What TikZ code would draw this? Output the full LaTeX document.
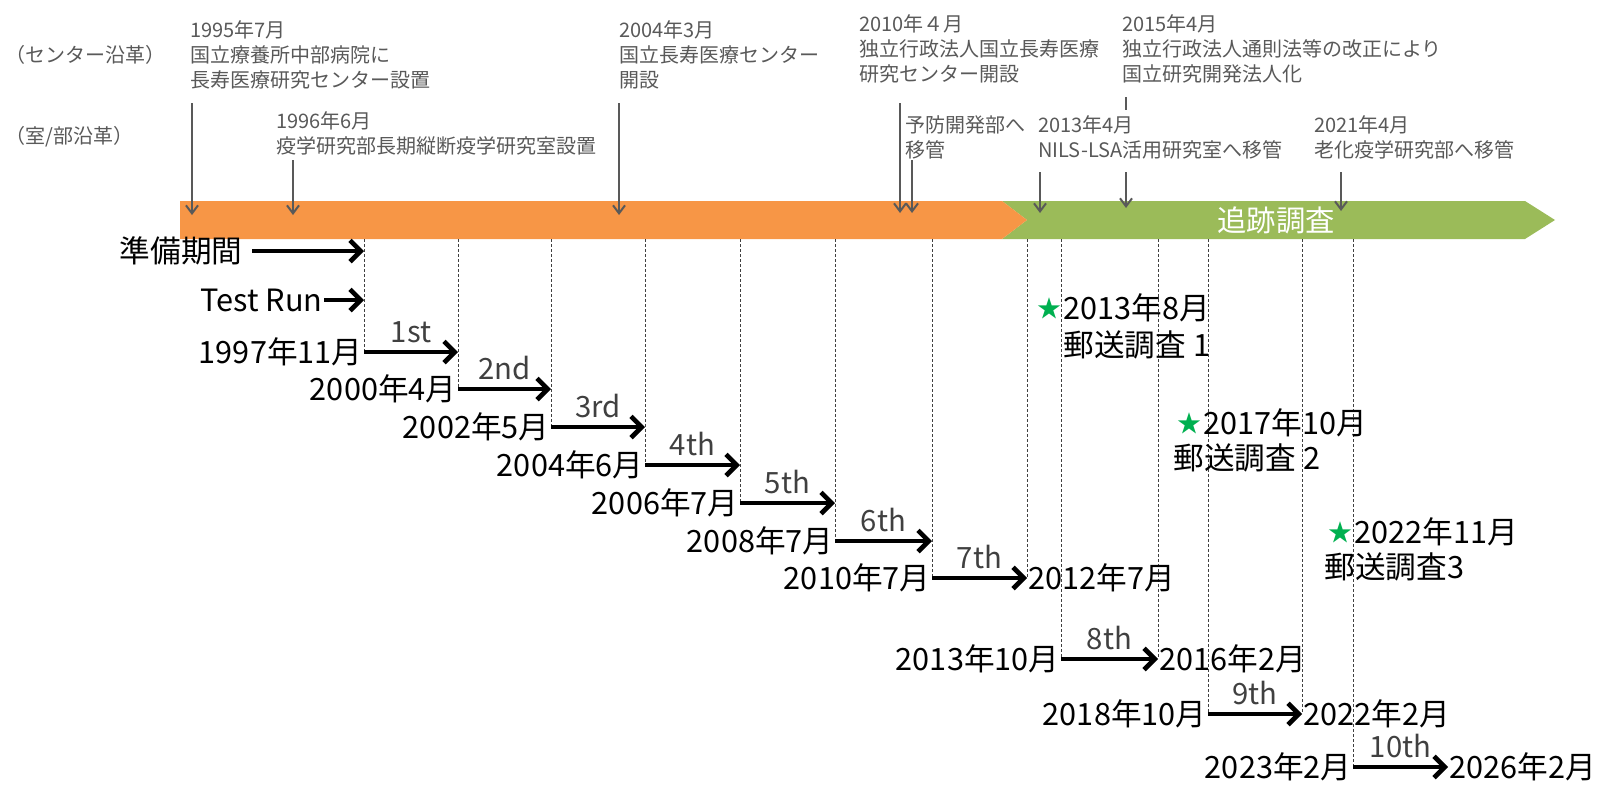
\documentclass[tikz,border=0pt]{standalone}
\usepackage{fontspec}
\setmainfont{Noto Sans CJK JP}
\usetikzlibrary{arrows.meta,positioning}
\definecolor{bandorange}{HTML}{F79646}
\definecolor{bandgreen}{HTML}{9BBB59}
\definecolor{notegray}{HTML}{595959}
\definecolor{wavegray}{HTML}{404040}
\definecolor{stargreen}{HTML}{00B050}

\begin{document}
\begin{tikzpicture}[x=0.75pt,y=-0.75pt]
\tikzstyle{note}=[anchor=north west,align=left,inner sep=0pt,text=notegray,font=\fontsize{15}{18.75}\selectfont]
\tikzstyle{event}=[draw=notegray,line width=1.5pt,-{Straight Barb[length=6pt,width=9pt]}]
\tikzstyle{date}=[inner sep=1pt,font=\fontsize{23}{27}\selectfont]
\tikzstyle{run}=[line width=3.5pt,-{Straight Barb[length=8pt,width=16pt]}]
\tikzstyle{wave}=[above=4pt,inner sep=1pt,text=wavegray,font=\fontsize{22}{26}\selectfont]
\tikzstyle{guide}=[draw=wavegray,line width=0.75pt,dash pattern=on 2.25pt off 1.5pt]
\tikzstyle{starsym}=[inner sep=0pt,text=stargreen,font=\fontsize{18}{20}\selectfont]
\useasboundingbox (0,0) rectangle (1600,797);

% bands
\fill[bandgreen] (1002,201) -- (1525,201) -- (1555,220) -- (1525,239) -- (1002,239) -- (1027,220) -- cycle;
\fill[bandorange] (180,201) -- (1002,201) -- (1027,220) -- (1002,239) -- (180,239) -- cycle;
\node[text=white,font=\fontsize{22}{26}\selectfont] (follow) at (1276,220) {追跡調査};
\coordinate (bandfoot) at (0,239);

% history notes
\node[note,anchor=west] (hist1) at (5,55) {（センター沿革）};
\node[note,anchor=west] (hist2) at (5,137) {（室/部沿革）};
\node[note] (e1995) at (190,20) {1995年7月\\国立療養所中部病院に\\長寿医療研究センター設置};
\node[note] (e1996) at (276,111) {1996年6月\\疫学研究部長期縦断疫学研究室設置};
\node[note] (e2004) at (619,20) {2004年3月\\国立長寿医療センター\\開設};
\node[note] (e2010) at (859,14) {2010年４月\\独立行政法人国立長寿医療\\研究センター開設};
\node[note] (e2015) at (1122,14) {2015年4月\\独立行政法人通則法等の改正により\\国立研究開発法人化};
\node[note] (e2010b) at (905,115) {予防開発部へ\\移管};
\node[note] (e2013) at (1038,115) {2013年4月\\NILS-LSA活用研究室へ移管};
\node[note] (e2021) at (1314,115) {2021年4月\\老化疫学研究部へ移管};

\coordinate (s1995) at (192,103);
\coordinate (t1995) at (192,215);
\coordinate (s1996) at (293,160);
\coordinate (t1996) at (293,215);
\coordinate (s2004) at (619,103);
\coordinate (t2004) at (619,215);
\coordinate (s2010) at (900,103);
\coordinate (t2010) at (900,213);
\coordinate (s2010b) at (912,160);
\coordinate (t2010b) at (912,213);
\coordinate (s2013) at (1040,172);
\coordinate (t2013) at (1040,213);
\coordinate (k2015) at (1126,97);
\coordinate (s2015) at (1126,172);
\coordinate (t2015) at (1126,208);
\coordinate (s2021) at (1341,172);
\coordinate (t2021) at (1341,211);
\draw[event] (s1995) -- (t1995);
\draw[event] (s1996) -- (t1996);
\draw[event] (s2004) -- (t2004);
\draw[event] (s2010) -- (t2010);
\draw[event] (s2010b) -- (t2010b);
\draw[event] (s2013) -- (t2013);
\draw[draw=notegray,line width=1.5pt] (k2015) -- ++(0,13);
\draw[event] (s2015) -- (t2015);
\draw[event] (s2021) -- (t2021);

% waves
\coordinate (r0) at (364,352);
\coordinate (r1) at (458,389);
\coordinate (r2) at (551,427);
\coordinate (r3) at (645,465);
\coordinate (r4) at (740,503);
\coordinate (r5) at (835,541);
\coordinate (r6) at (932,578);
\coordinate (r7) at (1027,578);
\coordinate (r8) at (1061,659);
\coordinate (r9) at (1158,659);
\coordinate (r10) at (1208,714);
\coordinate (r11) at (1302,714);
\coordinate (r12) at (1353,767);
\coordinate (r13) at (1448,767);

\draw[guide] (r0 |- bandfoot) -- (r0);
\draw[guide] (r1 |- bandfoot) -- (r1);
\draw[guide] (r2 |- bandfoot) -- (r2);
\draw[guide] (r3 |- bandfoot) -- (r3);
\draw[guide] (r4 |- bandfoot) -- (r4);
\draw[guide] (r5 |- bandfoot) -- (r5);
\draw[guide] (r6 |- bandfoot) -- (r6);
\draw[guide] (r7 |- bandfoot) -- (r7);
\draw[guide] (r8 |- bandfoot) -- (r8);
\draw[guide] (r9 |- bandfoot) -- (r9);
\draw[guide] (r10 |- bandfoot) -- (r10);
\draw[guide] (r11 |- bandfoot) -- (r11);
\draw[guide] (r12 |- bandfoot) -- (r12);

\node[date,anchor=east] (prep) at (244,251) {準備期間};
\node[date,anchor=east] (trial) at (324,300) {Test Run};
\draw[run] ([xshift=6]prep.east) -- (prep.east -| r0);
\draw[run] (trial.east) -- (trial.east -| r0);

\node[date,anchor=east] (d1997) at (r0) {1997年11月};
\node[date,anchor=east] (d2000) at (r1) {2000年4月};
\node[date,anchor=east] (d2002) at (r2) {2002年5月};
\node[date,anchor=east] (d2004) at (r3) {2004年6月};
\node[date,anchor=east] (d2006) at (r4) {2006年7月};
\node[date,anchor=east] (d2008) at (r5) {2008年7月};
\node[date,anchor=east] (d2010) at (r6) {2010年7月};
\node[date,anchor=west] (d2012) at (r7) {2012年7月};
\node[date,anchor=east] (d2013) at (r8) {2013年10月};
\node[date,anchor=west] (d2016) at (r9) {2016年2月};
\node[date,anchor=east] (d2018) at (r10) {2018年10月};
\node[date,anchor=west] (d2022) at (r11) {2022年2月};
\node[date,anchor=east] (d2023) at (r12) {2023年2月};
\node[date,anchor=west] (d2026) at (r13) {2026年2月};

\draw[run] (r0) -- node[wave] {1st} (r0 -| r1);
\draw[run] (r1) -- node[wave] {2nd} (r1 -| r2);
\draw[run] (r2) -- node[wave] {3rd} (r2 -| r3);
\draw[run] (r3) -- node[wave] {4th} (r3 -| r4);
\draw[run] (r4) -- node[wave] {5th} (r4 -| r5);
\draw[run] (r5) -- node[wave] {6th} (r5 -| r6);
\draw[run] (r6) -- node[wave] {7th} (r7);
\draw[run] (r8) -- node[wave] {8th} (r9);
\draw[run] (r10) -- node[wave] {9th} (r11);
\draw[run] (r12) -- node[wave] {10th} (r13);

% mail surveys
\node[date,anchor=west] (post1) at (1062,308) {2013年8月};
\node[starsym,anchor=east] (star1) at (post1.west) {★};
\node[date,anchor=west] (mail1) at (1062,345) {郵送調査 1};
\node[date,anchor=west] (post2) at (1202,423) {2017年10月};
\node[starsym,anchor=east] (star2) at (post2.west) {★};
\node[date,anchor=west] (mail2) at (1172,458) {郵送調査 2};
\node[date,anchor=west] (post3) at (1353,532) {2022年11月};
\node[starsym,anchor=east] (star3) at (post3.west) {★};
\node[date,anchor=west] (mail3) at (1323,567) {郵送調査3};
\end{tikzpicture}
\end{document}
